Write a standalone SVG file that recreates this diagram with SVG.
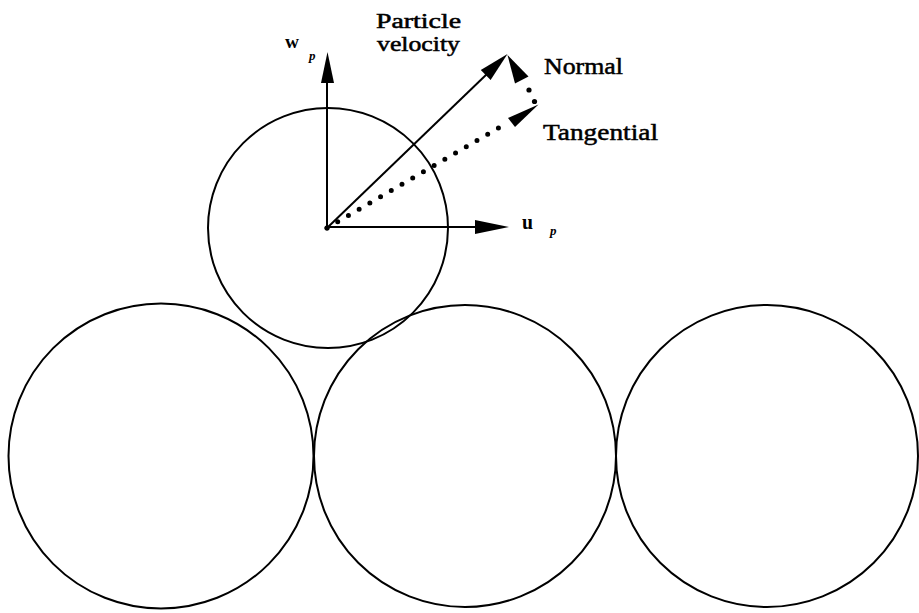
<svg xmlns="http://www.w3.org/2000/svg" width="919" height="613" viewBox="0 0 919 613">
<style>
.c{fill:none;stroke:#000;stroke-width:2}
.ln{fill:none;stroke:#000;stroke-width:2}
.dot{fill:none;stroke:#000;stroke-width:5;stroke-linecap:round;stroke-dasharray:0 12.4}
.ah{fill:#000;stroke:none}
.lbl{font-family:"Liberation Serif","Times New Roman",serif;font-size:23px;fill:#000;stroke:#000;stroke-width:0.5}
.sym{font-family:"Liberation Serif","Times New Roman",serif;font-weight:bold;fill:#000}
</style>
<rect width="919" height="613" fill="#fff"/>
<g id="particle">
<circle class="c" cx="328" cy="228" r="120"/>
</g>
<g id="bed-left">
<circle class="c" cx="161" cy="456" r="152.5"/>
</g>
<g id="bed-middle">
<circle class="c" cx="465" cy="456" r="151"/>
</g>
<g id="bed-right">
<circle class="c" cx="767" cy="456" r="151"/>
</g>
<g id="connectors">
<line class="ln" x1="327" y1="228" x2="327" y2="80"/>
<polygon class="ah" points="327.5,52 334,83 321,83"/>
<line class="ln" x1="327" y1="227" x2="478" y2="227"/>
<polygon class="ah" points="509,227 475,220 475,234"/>
<line class="ln" x1="327" y1="228" x2="488" y2="73"/>
<polygon class="ah" points="507.5,54 490.6,80 480.8,69.9"/>
<path class="dot" d="M327,228 L502,126"/>
<polygon class="ah" points="538.5,104.5 508,118 515,127"/>
<circle cx="529" cy="90" r="2.6" fill="#000"/>
<circle cx="534.5" cy="101.5" r="2.6" fill="#000"/>
<polygon class="ah" points="507.5,55 528.5,76.5 515,83.5"/>
<circle cx="327" cy="228" r="2.5" fill="#000"/>
</g>
<g id="labels">
<text class="lbl" x="376" y="28" font-size="20" style="font-size:20px" textLength="85" lengthAdjust="spacingAndGlyphs">Particle</text>
<text class="lbl" x="377" y="51" style="font-size:20px" textLength="83" lengthAdjust="spacingAndGlyphs">velocity</text>
<text class="lbl" x="544" y="74" textLength="79" lengthAdjust="spacingAndGlyphs">Normal</text>
<text class="lbl" x="543" y="140" textLength="115" lengthAdjust="spacingAndGlyphs">Tangential</text>
<text class="sym" x="285" y="48" font-size="19" textLength="14" lengthAdjust="spacingAndGlyphs">w</text>
<text class="sym" x="309" y="60" font-size="13" font-style="italic">p</text>
<text class="sym" x="522" y="229" font-size="22" textLength="11" lengthAdjust="spacingAndGlyphs">u</text>
<text class="sym" x="550" y="235" font-size="13" font-style="italic">p</text>
</g>
</svg>
